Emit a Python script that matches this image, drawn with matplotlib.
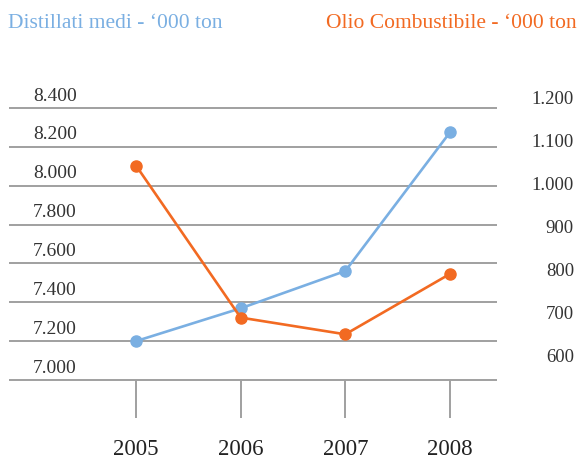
import matplotlib
matplotlib.use("Agg")
from matplotlib import pyplot as plt
from matplotlib import transforms

anni = ["2005", "2006", "2007", "2008"]
distillati = [7200, 7369, 7561, 8275]
olio = [1047, 692, 653, 794]
sx_ticks = [7000, 7200, 7400, 7600, 7800, 8000, 8200, 8400]
sx_labels = ["7.000", "7.200", "7.400", "7.600", "7.800", "8.000", "8.200", "8.400"]
dx_ticks = [600, 700, 800, 900, 1000, 1100, 1200]
dx_labels = ["600", "700", "800", "900", "1.000", "1.100", "1.200"]

blu = "#7aafe2"
arancio = "#f26a22"
grigio = "#a0a0a0"
font = "Liberation Serif"

W, H = 579, 459
fig = plt.figure(figsize=(W / 100, H / 100), dpi=100)
# axes from x=9..497 px, y=90..418 px
ax = fig.add_axes([9 / W, 1 - 418 / H, 488 / W, 328 / H])
ax2 = ax.twinx()

x = list(range(len(anni)))
ax.set_xlim(-1.213, 3.449)
ax.set_ylim(6804.4, 8492.5)
ax2.set_ylim(457.6, 1223.3)

for a in (ax, ax2):
    for s in a.spines.values():
        s.set_visible(False)
    a.set_xticks([])
    a.set_yticks([])

for v in sx_ticks:
    ax.axhline(v, color=grigio, lw=1.4, zorder=1)
ax.vlines(x, 6804.4, 7000, color=grigio, lw=1.4, zorder=1)

trans = transforms.blended_transform_factory(ax.transAxes, ax.transData)
off = transforms.offset_copy(trans, fig=fig, y=2.5, units="points")
for v, lab in zip(sx_ticks, sx_labels):
    ax.text(24 / 488, v, lab, transform=off, ha="left", va="bottom",
            fontsize=14, family=font, color="#333333")

trans2 = transforms.blended_transform_factory(fig.transFigure, ax2.transData)
for v, lab in zip(dx_ticks, dx_labels):
    ax2.text(574 / W, v, lab, transform=trans2, ha="right", va="center",
             fontsize=13.5, family=font, color="#333333", clip_on=False)

for xi, lab in zip(x, anni):
    ax.text(xi, 6804.4, lab, transform=transforms.offset_copy(ax.transData, fig=fig, y=-15, units="points"),
            ha="center", va="top", fontsize=16.5, family=font, color="#222222")

ax.plot(x, distillati, color=blu, lw=1.9, marker="o", ms=8, zorder=3)
ax2.plot(x, olio, color=arancio, lw=1.9, marker="o", ms=8, zorder=3)

fig.text(8 / W, 1 - 23 / H, "Distillati medi - \u2018000 ton", color=blu,
         fontsize=15.5, family=font, ha="left", va="center")
fig.text(577 / W, 1 - 23 / H, "Olio Combustibile - \u2018000 ton", color=arancio,
         fontsize=15.5, family=font, ha="right", va="center")

fig.savefig("out.png", dpi=100)
